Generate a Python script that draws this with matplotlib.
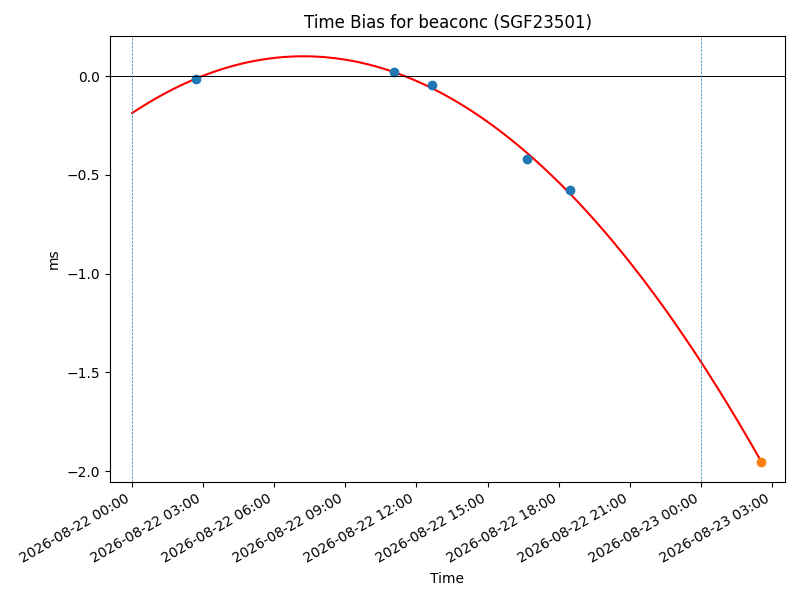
import matplotlib
matplotlib.use("Agg")
import matplotlib.pyplot as plt
import matplotlib.dates as mdates
import numpy as np
import pandas as pd

# Measured time-bias points (blue)
obs_times = ["2026-08-22 02:43", "2026-08-22 11:02", "2026-08-22 12:38",
             "2026-08-22 16:41", "2026-08-22 18:29"]
obs_values = [-0.014, 0.022, -0.047, -0.422, -0.579]

# Predicted point (orange)
pred_time = ["2026-08-23 02:33"]
pred_value = [-1.951]

# Reference day boundaries (vertical dashed lines)
vlines = ["2026-08-22 00:00", "2026-08-23 00:00"]

# Fit curve span
fit_start = "2026-08-22 00:00"
fit_end = "2026-08-23 02:33"

title = "Time Bias for beaconc (SGF23501)"

obs_t = pd.to_datetime(obs_times)
pred_t = pd.to_datetime(pred_time)
t0 = pd.Timestamp(fit_start)

# quadratic fit through all points
all_t = list(obs_t) + list(pred_t)
all_v = obs_values + pred_value
hrs = np.array([(t - t0).total_seconds() / 3600 for t in all_t])
coef = np.polyfit(hrs, all_v, 2)
curve_t = pd.date_range(fit_start, fit_end, periods=300)
curve_h = np.array([(t - t0).total_seconds() / 3600 for t in curve_t])
curve_v = np.polyval(coef, curve_h)

fig = plt.figure(figsize=(8, 6), dpi=100)
ax = fig.add_axes([0.1375, 0.1967, 0.84375, 0.7433])

ax.plot(curve_t, curve_v, color="red", lw=1.5)
ax.plot(obs_t, obs_values, "o", color="C0")
ax.plot(pred_t, pred_value, "o", color="C1")
ax.axhline(0, color="black", lw=0.7)
for v in vlines:
    ax.axvline(pd.Timestamp(v), color="C0", ls="--", lw=0.5)

ax.set_xlim(pd.Timestamp("2026-08-21 23:04"), pd.Timestamp("2026-08-23 03:33"))
ax.xaxis.set_major_locator(mdates.HourLocator(byhour=range(0, 24, 3)))
ax.xaxis.set_major_formatter(mdates.DateFormatter("%Y-%m-%d %H:%M"))
for lbl in ax.get_xticklabels():
    lbl.set_rotation(30)
    lbl.set_ha("right")

ax.set_title(title)
ax.set_xlabel("Time")
ax.set_ylabel("ms")

fig.savefig("out.png", dpi=100)
